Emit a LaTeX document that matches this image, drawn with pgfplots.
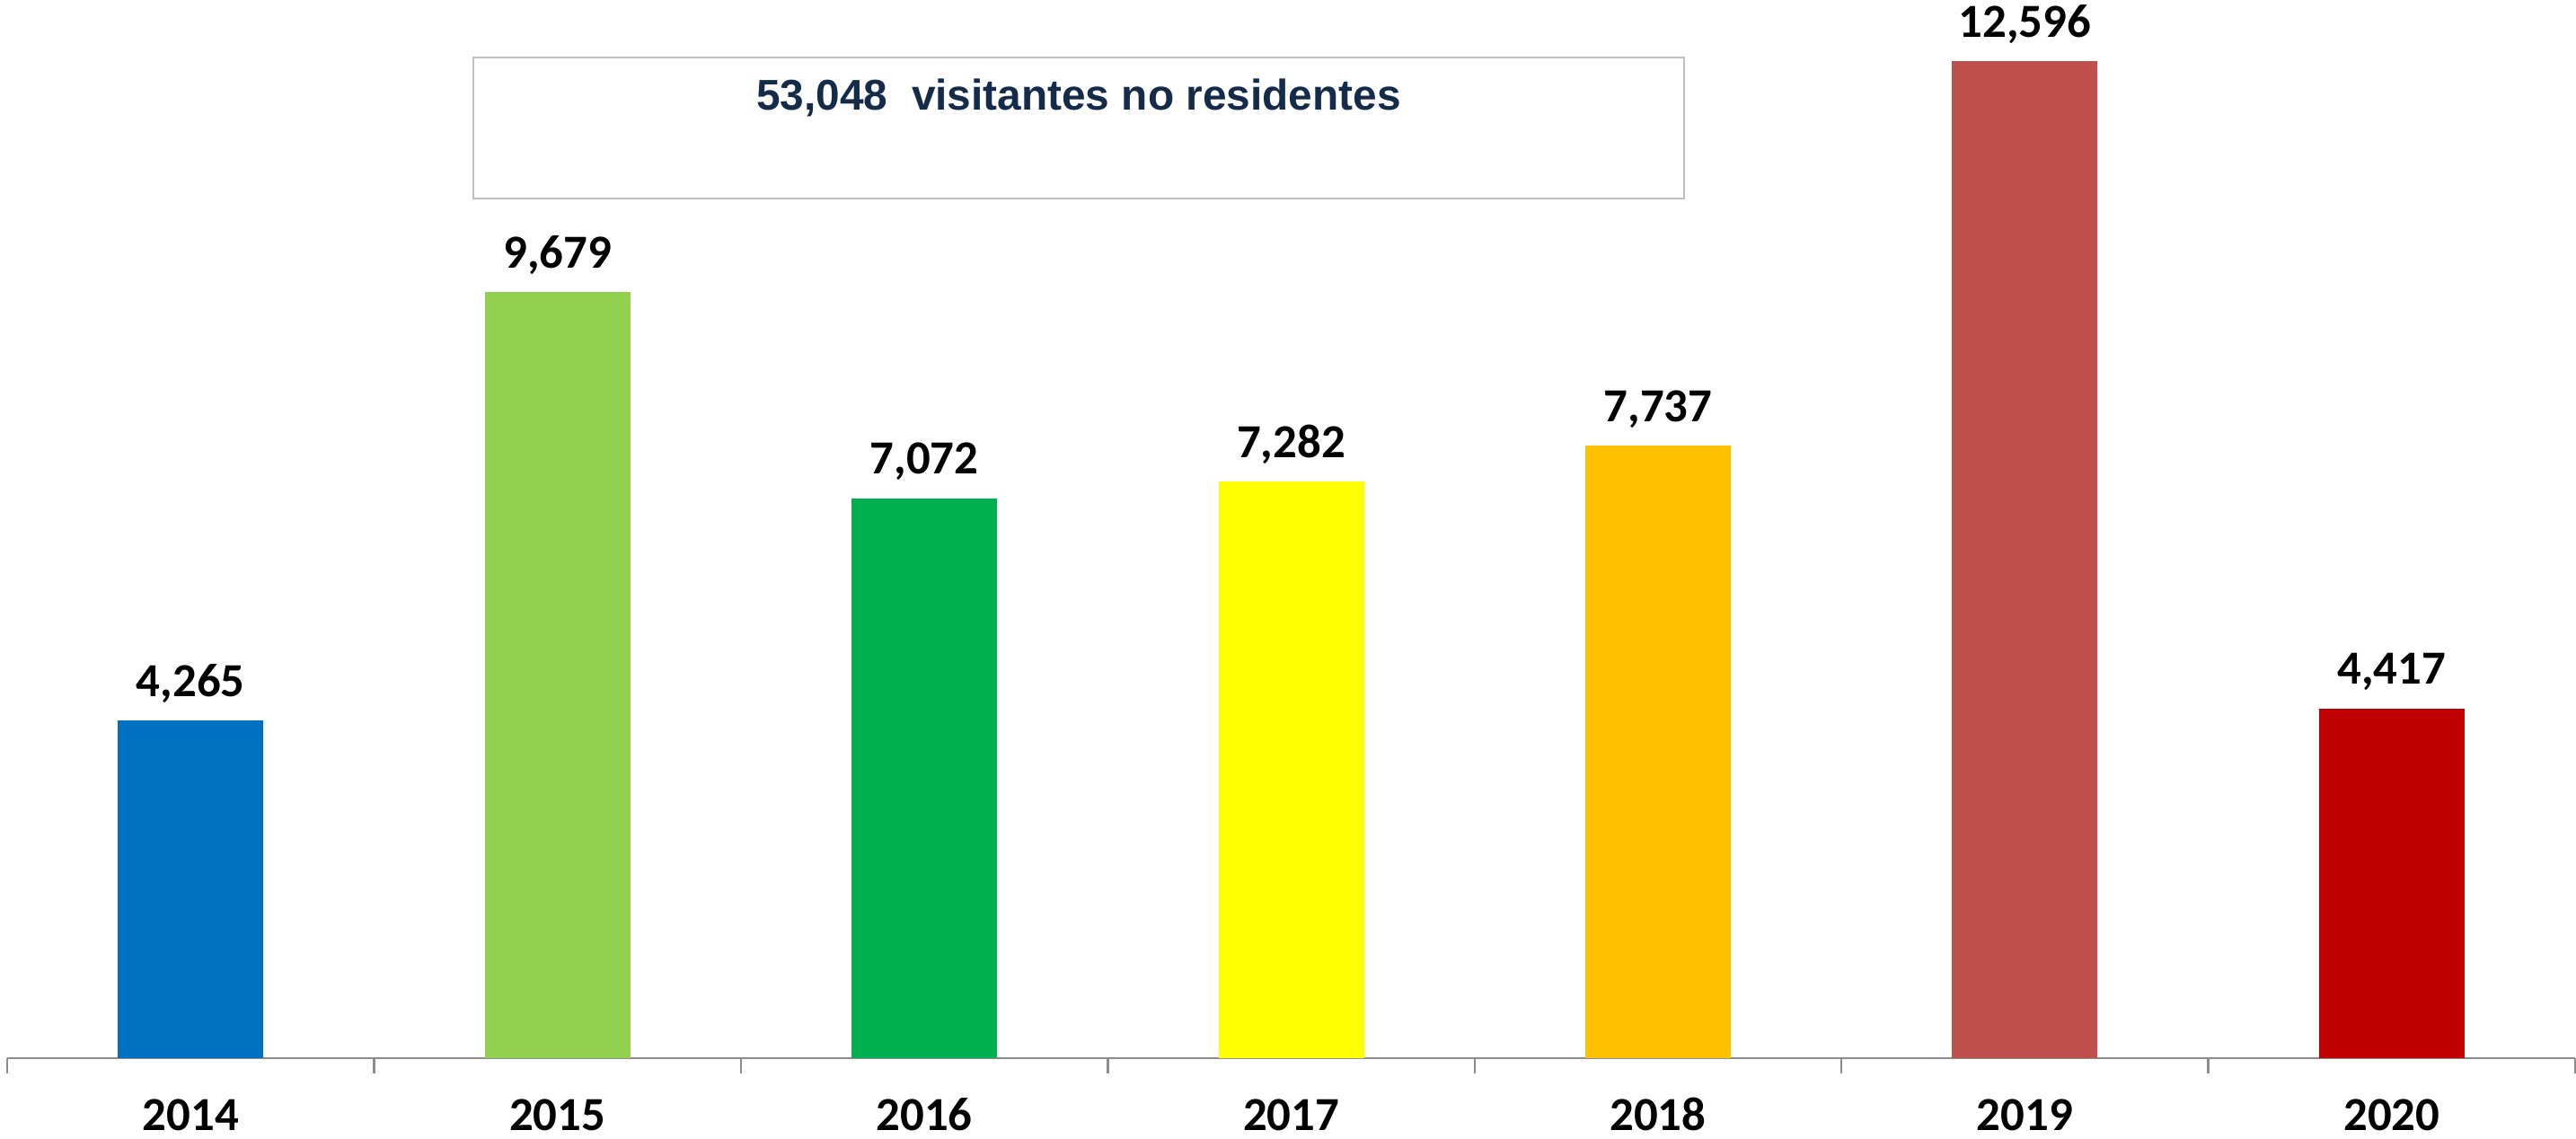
\documentclass[border=0pt]{standalone}
\usepackage{fontspec}
\setmainfont{Liberation Sans}
\newfontfamily\carlito{Carlito}
\usepackage{pgfplots}
\pgfplotsset{compat=1.18}
\definecolor{c14}{HTML}{0070C0}
\definecolor{c15}{HTML}{92D050}
\definecolor{c16}{HTML}{00B050}
\definecolor{c17}{HTML}{FFFF00}
\definecolor{c18}{HTML}{FFC000}
\definecolor{c19}{HTML}{C0504D}
\definecolor{c20}{HTML}{C00000}
\definecolor{navy}{HTML}{142B4A}
\definecolor{axisgray}{HTML}{8C8C8C}
\begin{document}
\begin{tikzpicture}
\begin{axis}[
  scale only axis,
  width=714.75pt, height=294.5pt,
  xmin=-0.5, xmax=6.5, ymin=0, ymax=13371,
  ybar, bar width=40.5pt,
  axis y line=none,
  axis x line=bottom,
  x axis line style={-, draw=axisgray, line width=0.6pt},
  xtick={0,1,2,3,4,5,6},
  xticklabels={2014,2015,2016,2017,2018,2019,2020},
  major tick length=0pt,
  extra x ticks={-0.5,0.5,1.5,2.5,3.5,4.5,5.5,6.5},
  extra x tick labels={},
  extra x tick style={major tick length=4.25pt, tick align=outside,
    tick style={draw=axisgray, line width=0.6pt}},
  xticklabel style={font=\carlito\bfseries\fontsize{13.2}{13.2}\selectfont,
    anchor=base, yshift=-20.2pt, inner sep=0pt},
  nodes near coords={\pgfmathprintnumber[fixed,1000 sep={,},assume math mode=true]{\pgfplotspointmeta}},
  nodes near coords style={font=\carlito\bfseries\fontsize{13.2}{13.2}\selectfont,
    anchor=base, yshift=6.75pt, inner sep=0pt, text=black},
  clip=false,
]
\addplot[fill=c14, draw=none, bar shift=0pt] coordinates {(0,4265)};
\addplot[fill=c15, draw=none, bar shift=0pt] coordinates {(1,9679)};
\addplot[fill=c16, draw=none, bar shift=0pt] coordinates {(2,7072)};
\addplot[fill=c17, draw=none, bar shift=0pt] coordinates {(3,7282)};
\addplot[fill=c18, draw=none, bar shift=0pt] coordinates {(4,7737)};
\addplot[fill=c19, draw=none, bar shift=0pt] coordinates {(5,12596)};
\addplot[fill=c20, draw=none, bar shift=0pt] coordinates {(6,4417)};
% summary box
\draw[draw=black!25, line width=0.4pt, fill=white] (axis cs:0.771,10863) rectangle (axis cs:4.071,12645);
\node[anchor=base, text=navy, inner sep=0pt, font=\bfseries\fontsize{11.95}{12}\selectfont]
  at (axis cs:2.421,11975) {53,048\ \ visitantes no residentes};
\end{axis}
\pgfresetboundingbox
\useasboundingbox ([xshift=-2pt,yshift=-22.4pt]current axis.south west) rectangle ([xshift=0.25pt]current axis.north east);
\end{tikzpicture}
\end{document}
